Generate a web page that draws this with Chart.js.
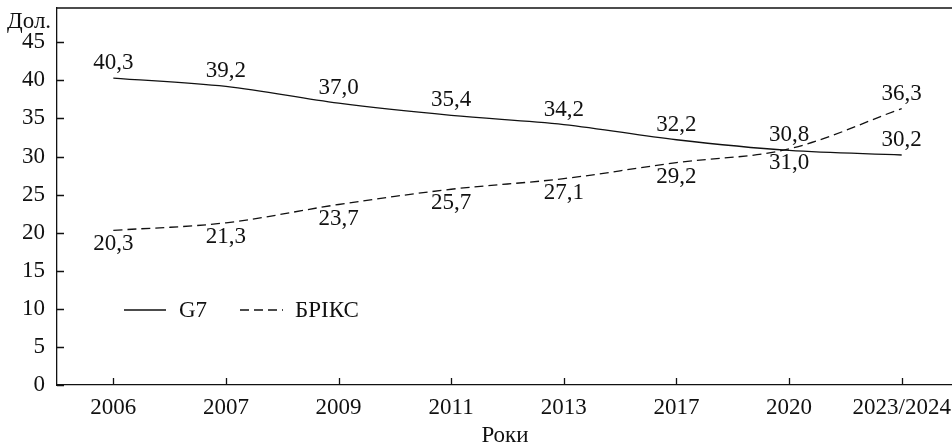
<!DOCTYPE html>
<html>
<head>
<meta charset="utf-8">
<script src="https://cdn.jsdelivr.net/npm/chart.js@4/dist/chart.umd.min.js"></script>
<style>
  html, body { margin: 0; padding: 0; background: #fff; overflow: hidden; }
  #wrap { width: 960px; height: 448px; }
</style>
</head>
<body>
<div id="wrap"><canvas id="chart" width="960" height="448"></canvas></div>
<script>
const years = ['2006', '2007', '2009', '2011', '2013', '2017', '2020', '2023/2024'];
const g7 = [40.3, 39.2, 37.0, 35.4, 34.2, 32.2, 30.8, 30.2];
const brics = [20.3, 21.3, 23.7, 25.7, 27.1, 29.2, 31.0, 36.3];
const yTicks = [0, 5, 10, 15, 20, 25, 30, 35, 40, 45];

const FONT = '"Liberation Serif", "Times New Roman", serif';
const FSIZE = 23;
const INK = '#111';

const fmt = v => v.toFixed(1).replace('.', ',');

const frameAndLabels = {
    id: 'frameAndLabels',
    afterDatasetsDraw(chart) {
        const { ctx, chartArea: a, scales } = chart;
        ctx.save();
        ctx.strokeStyle = INK;
        ctx.lineWidth = 1.3;

        // top border
        ctx.beginPath();
        ctx.moveTo(a.left, a.top);
        ctx.lineTo(a.right, a.top);
        ctx.stroke();

        // inward ticks
        ctx.beginPath();
        scales.x.ticks.forEach((t, i) => {
            const x = Math.round(scales.x.getPixelForTick(i)) + 0.5;
            ctx.moveTo(x, a.bottom);
            ctx.lineTo(x, a.bottom - 7);
        });
        scales.y.ticks.forEach(t => {
            const y = Math.round(scales.y.getPixelForValue(t.value)) + 0.5;
            ctx.moveTo(a.left, y);
            ctx.lineTo(a.left + 7, y);
        });
        ctx.stroke();

        // value labels
        ctx.fillStyle = INK;
        ctx.font = FSIZE + 'px ' + FONT;
        ctx.textAlign = 'center';
        ctx.textBaseline = 'middle';
        chart.data.datasets.forEach((ds, di) => {
            const meta = chart.getDatasetMeta(di);
            meta.data.forEach((pt, i) => {
                const above = ds.labelSide[i] === 'up';
                ctx.fillText(fmt(ds.data[i]), pt.x, pt.y + (above ? -15 : 14));
            });
        });

        // axis titles
        ctx.textAlign = 'left';
        ctx.fillText('Дол.', 7, 22);
        ctx.textAlign = 'center';
        ctx.fillText('Роки', 505, 436);

        // legend inside plot
        const ly = 310;
        ctx.beginPath();
        ctx.moveTo(124, ly);
        ctx.lineTo(166, ly);
        ctx.stroke();
        ctx.setLineDash([9, 5]);
        ctx.beginPath();
        ctx.moveTo(240, ly);
        ctx.lineTo(283, ly);
        ctx.stroke();
        ctx.setLineDash([]);
        ctx.textAlign = 'left';
        ctx.fillText('G7', 179, ly + 1);
        ctx.fillText('БРІКС', 295, ly + 1);
        ctx.restore();
    }
};

new Chart(document.getElementById('chart'), {
    type: 'line',
    data: {
        labels: years,
        datasets: [
            {
                label: 'G7',
                data: g7,
                labelSide: g7.map(() => 'up'),
                borderColor: INK,
                borderWidth: 1.3,
                tension: 0.35,
                pointRadius: 0,
                fill: false
            },
            {
                label: 'БРІКС',
                data: brics,
                labelSide: brics.map((v, i) => i === brics.length - 1 ? 'up' : 'down'),
                borderColor: INK,
                borderWidth: 1.3,
                borderDash: [9, 5],
                tension: 0.35,
                pointRadius: 0,
                fill: false
            }
        ]
    },
    options: {
        responsive: false,
        animation: false,
        layout: { padding: { top: 8, right: 2, left: 0, bottom: 0 } },
        plugins: {
            legend: { display: false },
            tooltip: { enabled: false }
        },
        scales: {
            x: {
                offset: true,
                grid: { display: false, drawTicks: false },
                border: { display: true, color: INK, width: 1.3 },
                ticks: {
                    color: INK,
                    font: { family: FONT, size: FSIZE },
                    padding: 9,
                    maxRotation: 0,
                    autoSkip: false
                },
                afterFit(scale) {
                    scale.height = 63;
                    scale.paddingLeft = 0;
                    scale.paddingRight = 0;
                }
            },
            y: {
                min: 0,
                max: 49.5,
                grid: { display: false, drawTicks: false },
                border: { display: true, color: INK, width: 1.3 },
                afterBuildTicks(scale) {
                    scale.ticks = yTicks.map(v => ({ value: v }));
                },
                ticks: {
                    color: INK,
                    font: { family: FONT, size: FSIZE },
                    padding: 12
                },
                afterFit(scale) {
                    scale.width = 57;
                    scale.paddingTop = 0;
                    scale.paddingBottom = 0;
                }
            }
        }
    },
    plugins: [frameAndLabels]
});
</script>
</body>
</html>
